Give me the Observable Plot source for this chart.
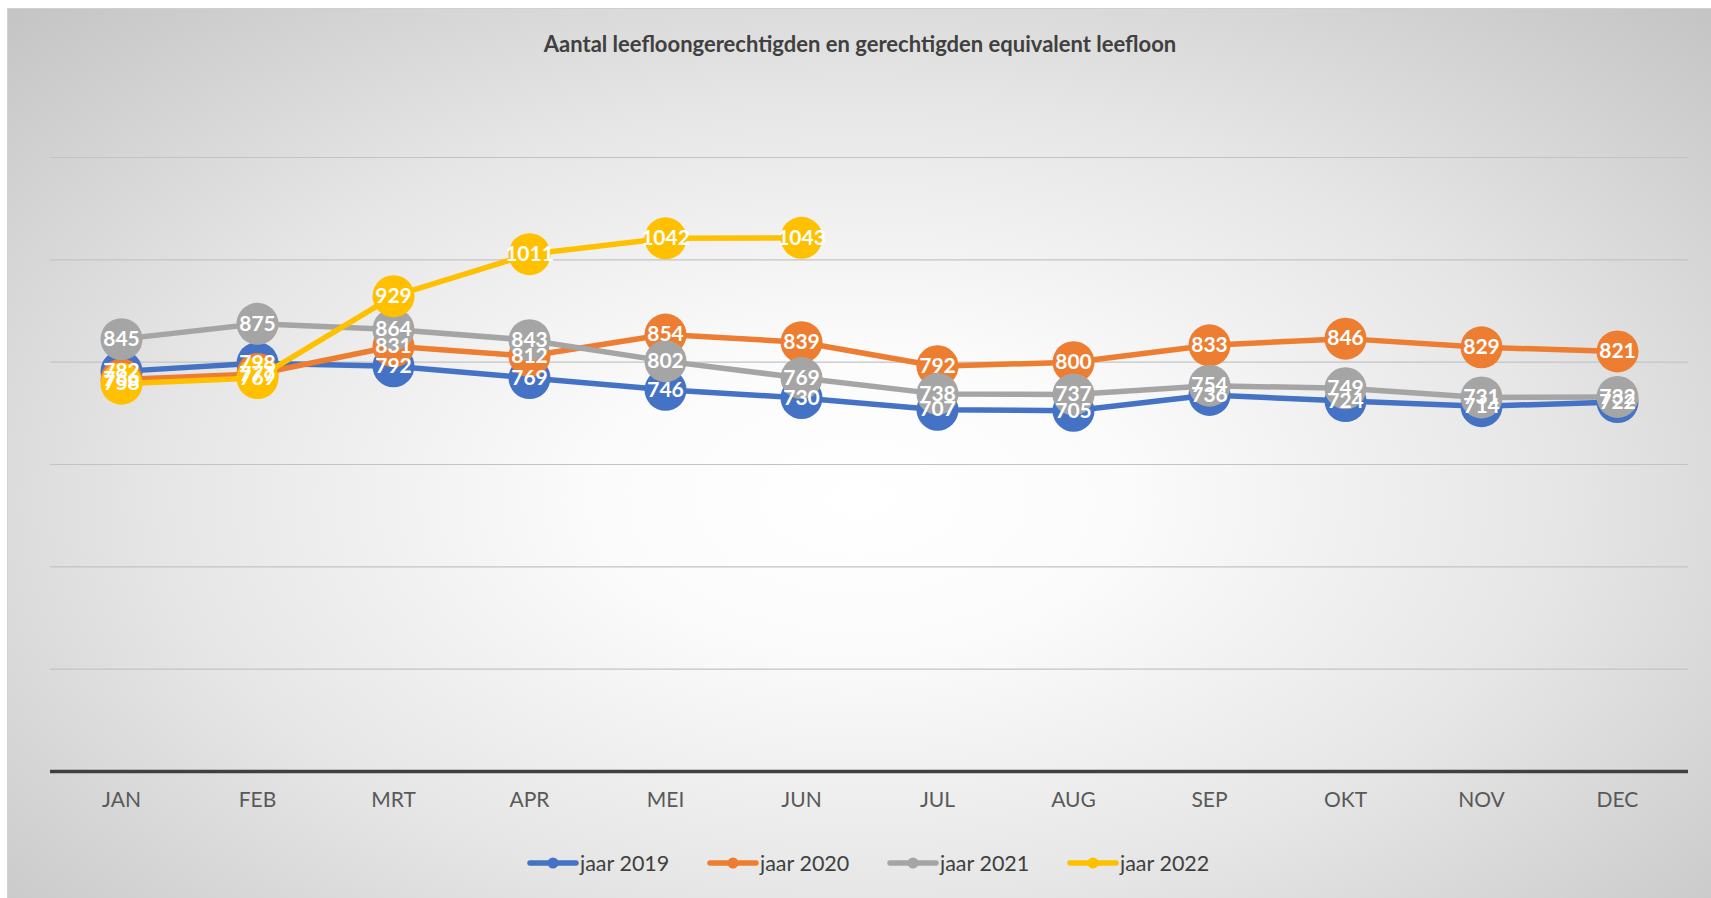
<!DOCTYPE html>
<html>
<head>
<meta charset="utf-8">
<script src="https://cdn.jsdelivr.net/npm/d3@7"></script>
<script src="https://cdn.jsdelivr.net/npm/@observablehq/plot@0.6"></script>
<style>
  html, body { margin: 0; padding: 0; background: #ffffff; overflow: hidden; }
  #chart {
    position: absolute; left: 7px; top: 8px; width: 1704px; height: 890px;
    border-left: 1px solid #d0d0d0; border-top: 1px solid #d0d0d0;
    background: radial-gradient(ellipse farthest-corner at 50% 55%, #ffffff 0%, #fbfbfb 22%, #e6e6e6 58%, #c4c4c4 100%);
    font-family: Lato, "Open Sans", sans-serif;
  }
  #title {
    height: 62px; line-height: 70px; text-align: center;
    font-weight: 700; font-size: 22px; color: #404040;
    box-sizing: border-box;
  }
  #plot svg { display: block; overflow: visible; }
  #legend {
    display: flex; justify-content: flex-start; align-items: center;
    position: absolute; left: 519px; top: 828px; height: 52px;
  }
  .item { display: flex; align-items: center; width: 180px; }
  .item span { font-size: 21.5px; color: #404040; margin-left: 1px; }
</style>
</head>
<body>
<div id="chart">
  <div id="title">Aantal leefloongerechtigden en gerechtigden equivalent leefloon</div>
  <div id="plot"></div>
  <div id="legend"></div>
</div>
<script>
const months = ["JAN","FEB","MRT","APR","MEI","JUN","JUL","AUG","SEP","OKT","NOV","DEC"];
const seriesNames = ["jaar 2019","jaar 2020","jaar 2021","jaar 2022"];
const seriesColors = ["#4472C4","#ED7D31","#A5A5A5","#FFC000"];
const jaar2019 = [782, 798, 792, 769, 746, 730, 707, 705, 736, 724, 714, 722];
const jaar2020 = [766, 777, 831, 812, 854, 839, 792, 800, 833, 846, 829, 821];
const jaar2021 = [845, 875, 864, 843, 802, 769, 738, 737, 754, 749, 731, 732];
const jaar2022 = [758, 769, 929, 1011, 1042, 1043];
const yTicks = [0, 200, 400, 600, 800, 1000, 1200];

const allSeries = [jaar2019, jaar2020, jaar2021, jaar2022];
const table = [];
allSeries.forEach((vals, si) => {
  vals.forEach((v, i) => table.push({month: months[i], value: v, series: seriesNames[si], order: si}));
});

const marks = [
  Plot.ruleY(yTicks.filter(t => t > 0), {stroke: "#c3c3c3", strokeWidth: 1.2}),
];
seriesNames.forEach((name, si) => {
  const d = table.filter(r => r.series === name);
  marks.push(Plot.line(d, {x: "month", y: "value", stroke: seriesColors[si], strokeWidth: 5.5, strokeLinecap: "round", strokeLinejoin: "round"}));
  marks.push(Plot.dot(d, {x: "month", y: "value", r: 21, fill: seriesColors[si], stroke: "none"}));
});
marks.push(Plot.ruleY([0], {stroke: "#404040", strokeWidth: 3.5}));
marks.push(Plot.text(table, {x: "month", y: "value", text: d => String(d.value), fill: "white", fontWeight: "bold", fontSize: 21, fontFamily: "Lato, sans-serif"}));
marks.push(Plot.axisX({tickSize: 0, tickPadding: 21, fontSize: 21, fill: "#595959", label: null, fontFamily: "Lato, sans-serif"}));

const chart = Plot.plot({
  width: 1704,
  height: 762,
  marginLeft: 42,
  marginRight: 24,
  marginTop: 86,
  marginBottom: 62,
  style: {background: "transparent", fontFamily: "Lato, sans-serif", overflow: "visible"},
  x: {type: "point", domain: months, padding: 0.5, axis: null},
  y: {domain: [0, 1200], axis: null},
  marks
});
document.getElementById("plot").appendChild(chart);

const legend = document.getElementById("legend");
seriesNames.forEach((name, si) => {
  const item = document.createElement("div");
  item.className = "item";
  item.innerHTML = `<svg width="52" height="14"><line x1="3" y1="7" x2="49" y2="7" stroke="${seriesColors[si]}" stroke-width="5.5" stroke-linecap="round"/><circle cx="26" cy="7" r="5.5" fill="${seriesColors[si]}"/></svg><span>${name}</span>`;
  legend.appendChild(item);
});
</script>
</body>
</html>
